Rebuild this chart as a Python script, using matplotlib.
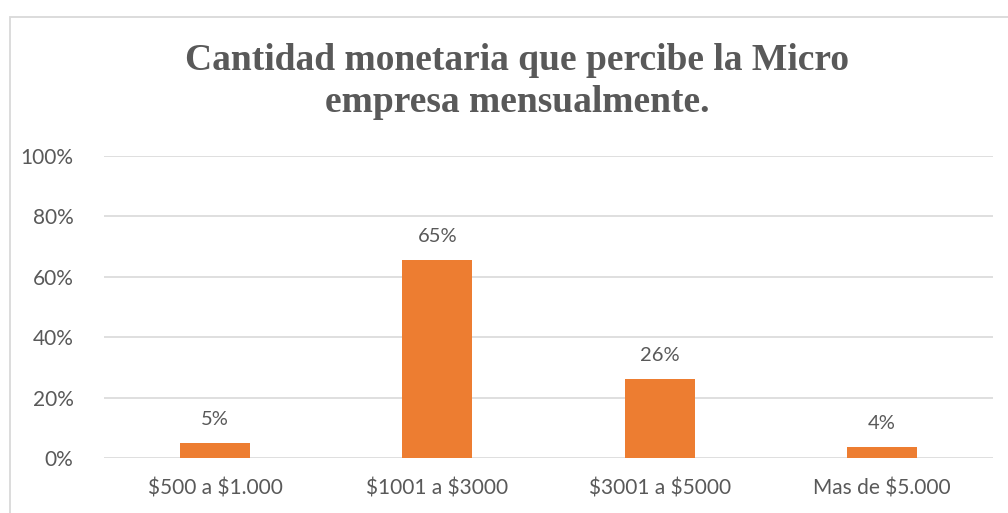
import matplotlib
matplotlib.use('Agg')
import matplotlib.pyplot as plt
from matplotlib.patches import Rectangle
from matplotlib.ticker import FuncFormatter

plt.rcParams['text.parse_math'] = False

categorias = ['$500 a $1.000', '$1001 a $3000', '$3001 a $5000', 'Mas de $5.000']
valores = [0.05, 0.654, 0.26, 0.036]
etiquetas = ['5%', '65%', '26%', '4%']
titulo = 'Cantidad monetaria que percibe la Micro\nempresa mensualmente.'

W, H = 1008, 513
gris = '#595959'
naranja = '#ED7D31'
linea = '#d9d9d9'

fig = plt.figure(figsize=(W / 100, H / 100), dpi=100)
fig.patch.set_facecolor('white')

# borde del grafico (sale del recorte por la derecha y abajo)
fig.patches.append(Rectangle((10 / W, -0.1), 1.2, (H - 17) / H + 0.1,
                             transform=fig.transFigure, fill=False,
                             edgecolor=linea, linewidth=1.3))

ax = fig.add_axes([104 / W, 55 / H, 889 / W, 302 / H])
x = range(len(categorias))
barras = ax.bar(x, valores, width=0.315, color=naranja, zorder=3)

for xi, v, et in zip(x, valores, etiquetas):
    ax.annotate(et, (xi, v), xytext=(0, 11), textcoords='offset points',
                ha='center', va='bottom', fontsize=14.5, color=gris,
                family='Lato')

ax.set_xlim(-0.5, len(categorias) - 0.5)
ax.set_ylim(0, 1)
ax.set_yticks([0, 0.2, 0.4, 0.6, 0.8, 1.0])
ax.yaxis.set_major_formatter(FuncFormatter(lambda v, p: f'{v * 100:.0f}%'))
ax.set_xticks(list(x))
ax.set_xticklabels(categorias)
ax.tick_params(axis='both', length=0, labelsize=15, labelcolor=gris)
ax.tick_params(axis='y', pad=22)
ax.tick_params(axis='x', pad=15)
for lab in ax.get_xticklabels() + ax.get_yticklabels():
    lab.set_family('Lato')

ax.grid(axis='y', color=linea, linewidth=1.2, zorder=0)
for s in ax.spines.values():
    s.set_visible(False)
ax.set_facecolor('none')

fig.text(517 / W, 1 - 43 / H, titulo, ha='center', va='top',
         fontsize=27, fontweight='bold', color=gris,
         family='Liberation Serif', linespacing=1.25)

fig.savefig('out.png', dpi=100)
